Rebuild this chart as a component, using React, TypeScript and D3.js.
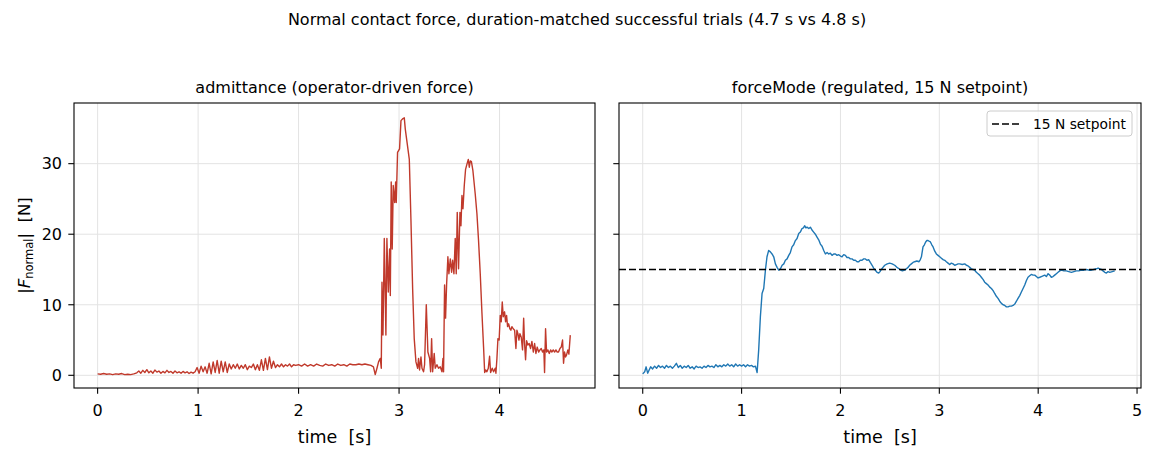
import * as d3 from "d3";

// admittance trial (operator-driven force)
const admittanceTime = [
  0.0, 0.03, 0.06, 0.09, 0.12, 0.15, 0.18, 0.21, 0.24, 0.27, 0.3, 0.33, 0.36, 0.39, 0.41, 0.43, 0.45, 0.47, 0.49,
  0.51, 0.53, 0.55, 0.57, 0.59, 0.61, 0.63, 0.65, 0.67, 0.69, 0.71, 0.73, 0.75, 0.77, 0.79, 0.81, 0.83, 0.85, 0.87,
  0.89, 0.91, 0.93, 0.95, 0.97, 0.99, 1.01, 1.03, 1.05, 1.07, 1.09, 1.11, 1.13, 1.15, 1.17, 1.19, 1.21, 1.23, 1.25,
  1.27, 1.29, 1.31, 1.33, 1.35, 1.37, 1.39, 1.41, 1.43, 1.45, 1.47, 1.49, 1.51, 1.53, 1.55, 1.57, 1.59, 1.61, 1.63,
  1.65, 1.67, 1.69, 1.71, 1.73, 1.75, 1.77, 1.79, 1.81, 1.83, 1.85, 1.87, 1.89, 1.91, 1.93, 1.95, 1.97, 2.0, 2.03,
  2.06, 2.09, 2.12, 2.15, 2.18, 2.21, 2.24, 2.27, 2.3, 2.33, 2.36, 2.39, 2.42, 2.45, 2.48, 2.51, 2.54, 2.57, 2.6,
  2.63, 2.66, 2.69, 2.72, 2.745, 2.763, 2.78, 2.796, 2.813, 2.823, 2.83, 2.84, 2.853, 2.869, 2.879, 2.893, 2.906,
  2.913, 2.922, 2.932, 2.942, 2.956, 2.966, 2.972, 2.985, 3.005, 3.019, 3.039, 3.052, 3.062, 3.102, 3.118, 3.135,
  3.151, 3.168, 3.185, 3.194, 3.204, 3.218, 3.228, 3.244, 3.254, 3.271, 3.287, 3.304, 3.314, 3.324, 3.334, 3.35,
  3.36, 3.377, 3.393, 3.41, 3.427, 3.437, 3.443, 3.453, 3.463, 3.473, 3.486, 3.496, 3.51, 3.523, 3.533, 3.546,
  3.559, 3.569, 3.579, 3.592, 3.606, 3.616, 3.626, 3.636, 3.649, 3.662, 3.675, 3.689, 3.699, 3.709, 3.72, 3.735,
  3.758, 3.775, 3.791, 3.808, 3.825, 3.841, 3.852, 3.862, 3.874, 3.888, 3.901, 3.911, 3.927, 3.941, 3.957, 3.964,
  3.974, 3.984, 3.996, 4.007, 4.017, 4.027, 4.037, 4.05, 4.06, 4.07, 4.08, 4.09, 4.103, 4.113, 4.123, 4.136, 4.15,
  4.163, 4.173, 4.183, 4.193, 4.203, 4.216, 4.229, 4.24, 4.249, 4.259, 4.269, 4.282, 4.295, 4.309, 4.322, 4.336,
  4.349, 4.362, 4.375, 4.389, 4.402, 4.415, 4.428, 4.441, 4.448, 4.458, 4.468, 4.481, 4.495, 4.508, 4.521, 4.534,
  4.548, 4.561, 4.574, 4.587, 4.601, 4.614, 4.627, 4.637, 4.647, 4.657, 4.667, 4.68, 4.69, 4.704,
];
const admittanceForce = [
  0.2, 0.15, 0.25, 0.15, 0.2, 0.1, 0.2, 0.15, 0.25, 0.1, 0.15, 0.1, 0.2, 0.35, 0.6, 0.3, 0.7, 0.4, 0.8,
  0.35, 0.6, 0.3, 0.75, 0.45, 0.6, 0.3, 0.55, 0.35, 0.7, 0.4, 0.55, 0.3, 0.6, 0.35, 0.5, 0.3, 0.55, 0.35,
  0.5, 0.25, 0.45, 0.3, 0.5, 1.1, 0.3, 1.3, 0.5, 1.2, 0.3, 1.7, 0.2, 1.9, 0.4, 2.1, 0.3, 2.0, 0.5,
  1.9, 0.4, 1.6, 0.9, 1.5, 1.0, 1.6, 0.9, 1.4, 1.0, 1.5, 0.8, 1.3, 1.1, 1.6, 0.8, 1.5, 0.7, 2.2,
  0.7, 2.4, 0.8, 2.6, 1.0, 2.0, 1.1, 1.5, 1.2, 1.6, 1.2, 1.5, 1.3, 1.6, 1.2, 1.5, 1.4, 1.5, 1.3,
  1.6, 1.3, 1.5, 1.3, 1.6, 1.4, 1.3, 1.6, 1.4, 1.5, 1.3, 1.6, 1.4, 1.5, 1.3, 1.6, 1.5, 1.5, 1.6,
  1.5, 1.6, 1.5, 1.4, 1.2, 0.1, 1.0, 1.9, 2.4, 1.0, 13.2, 5.7, 19.4, 5.7, 19.4, 11.8, 17.9,
  11.3, 27.4, 17.9, 26.9, 24.5, 27.4, 24.5, 31.6, 32.1, 36.1, 36.4, 36.5, 34.9, 30.6, 22.2, 12.3,
  5.2, 1.9, 1.0, 2.4, 0.75, 2.6, 1.0, 0.5, 1.5, 10.0, 3.3, 2.4, 0.5, 5.2, 0.5, 3.1,
  1.0, 1.5, 1.0, 1.2, 0.5, 2.4, 0.5, 12.8, 8.1, 12.8, 16.8, 14.4, 16.5, 14.6, 16.3, 14.4,
  19.4, 14.4, 23.1, 15.1, 23.1, 21.2, 25.5, 23.6, 26.9, 29.2, 29.9, 30.6, 29.5, 30.4, 30.3, 29.0,
  25.7, 22.9, 19.1, 14.4, 8.8, 4.0, 0.4, 0.75, 0.5, 1.0, 2.7, 0.4, 1.0, 0.5, 1.0, 0.3,
  2.4, 5.2, 5.0, 8.5, 7.6, 10.4, 8.3, 9.0, 7.6, 8.5, 6.9, 7.3, 6.6, 6.4, 6.9, 6.6, 6.4,
  3.8, 6.4, 5.9, 5.0, 5.9, 5.4, 3.6, 8.1, 4.5, 2.2, 4.9, 4.3, 4.5, 3.8, 4.8, 3.3,
  4.5, 3.1, 4.0, 3.3, 3.6, 3.8, 3.3, 3.6, 0.4, 6.6, 3.3, 3.6, 3.1, 3.6, 3.3, 3.6,
  3.3, 3.6, 3.3, 3.3, 3.8, 4.0, 5.0, 1.7, 3.3, 2.6, 2.9, 3.6, 3.0, 5.7,
];

// forceMode trial (regulated, 15 N setpoint)
const forceModeTime = [
  0.0, 0.02, 0.034, 0.05, 0.065, 0.08, 0.1, 0.12, 0.14, 0.16, 0.18, 0.2, 0.22, 0.24, 0.26, 0.28, 0.3, 0.32, 0.34,
  0.36, 0.38, 0.4, 0.42, 0.44, 0.46, 0.48, 0.5, 0.52, 0.54, 0.56, 0.58, 0.6, 0.62, 0.64, 0.66, 0.68, 0.7, 0.72,
  0.74, 0.76, 0.78, 0.8, 0.82, 0.84, 0.86, 0.88, 0.9, 0.92, 0.94, 0.96, 0.98, 1.0, 1.02, 1.04, 1.06, 1.08, 1.1,
  1.12, 1.14, 1.157, 1.173, 1.19, 1.207, 1.224, 1.241, 1.257, 1.274, 1.291, 1.308, 1.325, 1.342, 1.359, 1.376,
  1.393, 1.41, 1.427, 1.443, 1.46, 1.477, 1.493, 1.51, 1.527, 1.544, 1.561, 1.578, 1.594, 1.611, 1.625, 1.639,
  1.65, 1.662, 1.68, 1.696, 1.712, 1.729, 1.746, 1.763, 1.78, 1.797, 1.814, 1.831, 1.848, 1.865, 1.881, 1.898,
  1.915, 1.932, 1.949, 1.966, 1.983, 2.0, 2.016, 2.033, 2.05, 2.066, 2.083, 2.1, 2.117, 2.134, 2.151, 2.168,
  2.185, 2.2, 2.218, 2.235, 2.252, 2.268, 2.285, 2.302, 2.32, 2.336, 2.353, 2.37, 2.387, 2.4, 2.414, 2.43,
  2.448, 2.473, 2.498, 2.523, 2.549, 2.571, 2.593, 2.61, 2.626, 2.65, 2.667, 2.684, 2.7, 2.717, 2.734, 2.751,
  2.773, 2.795, 2.808, 2.819, 2.835, 2.849, 2.862, 2.874, 2.886, 2.898, 2.91, 2.924, 2.937, 2.954, 2.97, 2.987,
  3.004, 3.021, 3.038, 3.055, 3.071, 3.088, 3.105, 3.122, 3.139, 3.156, 3.173, 3.19, 3.206, 3.232, 3.257, 3.274,
  3.291, 3.308, 3.324, 3.341, 3.358, 3.375, 3.392, 3.408, 3.425, 3.442, 3.459, 3.476, 3.493, 3.51, 3.527, 3.544,
  3.56, 3.577, 3.594, 3.611, 3.628, 3.645, 3.662, 3.679, 3.695, 3.712, 3.729, 3.746, 3.763, 3.78, 3.796, 3.813,
  3.83, 3.847, 3.864, 3.88, 3.897, 3.914, 3.931, 3.948, 3.965, 3.982, 3.999, 4.016, 4.032, 4.049, 4.066, 4.083,
  4.1, 4.117, 4.133, 4.15, 4.167, 4.184, 4.201, 4.218, 4.235, 4.26, 4.285, 4.31, 4.336, 4.361, 4.386, 4.411,
  4.437, 4.462, 4.488, 4.513, 4.538, 4.563, 4.589, 4.606, 4.623, 4.64, 4.656, 4.673, 4.69, 4.707, 4.724, 4.749,
  4.774,
];
const forceModeForce = [
  0.2, 0.5, 1.2, 0.3, 0.75, 1.2, 0.9, 1.3, 1.0, 1.4, 1.1, 1.3, 1.0, 1.4, 1.1, 1.3, 1.0, 1.3, 1.7,
  1.1, 1.4, 1.0, 1.3, 1.1, 1.4, 1.0, 1.2, 0.9, 1.3, 1.1, 1.2, 1.0, 1.3, 1.1, 1.4, 1.2, 1.3, 1.1,
  1.5, 1.2, 1.4, 1.2, 1.5, 1.3, 1.6, 1.3, 1.5, 1.2, 1.6, 1.3, 1.5, 1.3, 1.5, 1.2, 1.5, 1.3, 1.4,
  1.2, 1.3, 0.4, 3.6, 8.3, 11.6, 12.3, 14.9, 16.8, 17.7, 17.5, 17.2, 16.8, 15.8, 15.3, 14.9,
  15.1, 15.6, 15.8, 16.3, 16.5, 17.0, 17.4, 18.2, 18.5, 19.1, 19.4, 20.1, 20.3, 20.8, 20.9, 21.2,
  20.9, 21.0, 20.8, 21.0, 20.6, 20.3, 20.0, 19.6, 19.2, 18.6, 18.3, 17.7, 17.2, 17.4, 17.2, 17.3,
  17.0, 17.2, 17.2, 17.0, 17.1, 16.9, 16.8, 17.1, 17.0, 16.7, 16.7, 16.5, 16.5, 16.3, 16.3, 16.1,
  16.1, 16.3, 16.3, 16.5, 16.5, 16.3, 16.4, 16.0, 15.6, 15.2, 14.9, 14.6, 14.5, 14.7, 15.0, 15.3,
  15.6, 15.8, 15.9, 15.8, 15.6, 15.3, 15.1, 14.9, 14.8, 14.9, 15.1, 15.3, 15.6, 15.8, 16.0, 16.1,
  16.2, 16.1, 16.4, 16.8, 18.2, 18.5, 18.9, 19.1, 19.1, 19.0, 18.9, 18.5, 18.2, 17.6, 17.2, 17.0,
  16.8, 16.6, 16.4, 16.3, 16.1, 15.9, 15.7, 15.9, 15.8, 15.6, 15.7, 15.8, 15.8, 15.7, 15.8, 15.6,
  15.5, 15.3, 15.1, 15.0, 14.9, 14.6, 14.4, 14.2, 13.9, 13.6, 13.2, 13.0, 12.8, 12.5, 12.3, 12.0,
  11.6, 11.2, 10.9, 10.5, 10.2, 10.0, 9.9, 9.7, 9.7, 9.8, 9.8, 9.9, 10.1, 10.5, 10.9, 11.3,
  11.8, 12.3, 12.8, 13.4, 13.9, 14.1, 14.3, 14.2, 14.2, 14.0, 13.8, 13.9, 14.0, 14.1, 14.2, 14.0,
  14.4, 14.2, 13.9, 14.0, 14.2, 14.4, 14.6, 14.8, 14.9, 14.8, 14.8, 14.7, 14.6, 14.7, 14.8, 14.8,
  14.9, 14.9, 15.0, 14.9, 14.9, 15.0, 15.1, 15.2, 15.1, 15.0, 14.8, 14.6, 14.5, 14.7, 14.6, 14.7,
  14.8,
];

const setpoint = 15;
const yTicks = [0, 10, 20, 30];
const leftXTicks = [0, 1, 2, 3, 4];
const rightXTicks = [0, 1, 2, 3, 4, 5];

const W = 1154;
const H = 457;
const top = 103;
const bottom = 388;
const font = "DejaVu Sans, sans-serif";
const gridColor = "#e3e3e3";

const y = d3.scaleLinear().domain([-1.8, 38.6]).range([bottom, top]);

type PanelProps = {
  x: d3.ScaleLinear<number, number>;
  xTicks: number[];
  times: number[];
  values: number[];
  color: string;
  title: string;
  showYLabels: boolean;
  setpointLine?: boolean;
};

function Panel({ x, xTicks, times, values, color, title, showYLabels, setpointLine }: PanelProps) {
  const [x0, x1] = x.range();
  const line = d3
    .line<number>()
    .x((_, i) => x(times[i]))
    .y((d) => y(d));
  const cx = (x0 + x1) / 2;
  return (
    <g>
      {xTicks.map((t) => (
        <line key={"gx" + t} x1={x(t)} x2={x(t)} y1={top} y2={bottom} stroke={gridColor} strokeWidth={1} />
      ))}
      {yTicks.map((t) => (
        <line key={"gy" + t} x1={x0} x2={x1} y1={y(t)} y2={y(t)} stroke={gridColor} strokeWidth={1} />
      ))}
      <path d={line(values) ?? ""} fill="none" stroke={color} strokeWidth={1.4} strokeLinejoin="round" />
      {setpointLine && (
        <line x1={x0} x2={x1} y1={y(setpoint)} y2={y(setpoint)} stroke="#000" strokeWidth={1.7} strokeDasharray="7,3" />
      )}
      <rect x={x0} y={top} width={x1 - x0} height={bottom - top} fill="none" stroke="#000" strokeWidth={1.1} />
      {xTicks.map((t) => (
        <g key={"tx" + t}>
          <line x1={x(t)} x2={x(t)} y1={bottom} y2={bottom + 5.7} stroke="#000" strokeWidth={1.1} />
          <text x={x(t)} y={416} textAnchor="middle" fontSize={16} fontFamily={font}>
            {t}
          </text>
        </g>
      ))}
      {yTicks.map((t) => (
        <g key={"ty" + t}>
          <line x1={x0} x2={x0 - 5.7} y1={y(t)} y2={y(t)} stroke="#000" strokeWidth={1.1} />
          {showYLabels && (
            <text x={x0 - 12} y={y(t)} dy="0.36em" textAnchor="end" fontSize={16} fontFamily={font}>
              {t}
            </text>
          )}
        </g>
      ))}
      <text x={cx} y={93} textAnchor="middle" fontSize={16} fontFamily={font}>
        {title}
      </text>
      <text x={cx} y={443} textAnchor="middle" fontSize={17.5} fontFamily={font} xmlSpace="preserve">
        time  [s]
      </text>
    </g>
  );
}

export default function App() {
  const xLeft = d3.scaleLinear().domain([-0.235, 4.95]).range([74, 595]);
  const xRight = d3.scaleLinear().domain([-0.24, 5.04]).range([619, 1141]);
  const midY = (top + bottom) / 2;

  return (
    <svg
      width={W}
      height={H}
      viewBox={`0 0 ${W} ${H}`}
      style={{ position: "absolute", left: 0, top: 0, background: "#fff" }}
    >
      <rect width={W} height={H} fill="#fff" />
      <text x={W / 2} y={25} textAnchor="middle" fontSize={16} fontFamily={font}>
        Normal contact force, duration-matched successful trials (4.7 s vs 4.8 s)
      </text>

      <Panel
        x={xLeft}
        xTicks={leftXTicks}
        times={admittanceTime}
        values={admittanceForce}
        color="#c0392b"
        title="admittance (operator-driven force)"
        showYLabels
      />
      <Panel
        x={xRight}
        xTicks={rightXTicks}
        times={forceModeTime}
        values={forceModeForce}
        color="#1f77b4"
        title="forceMode (regulated, 15 N setpoint)"
        showYLabels={false}
        setpointLine
      />

      <text
        transform={`translate(30,${midY}) rotate(-90)`}
        textAnchor="middle"
        fontSize={16.5}
        fontFamily={font}
        xmlSpace="preserve"
      >
        |<tspan fontStyle="italic">F</tspan>
        <tspan fontSize={11.5} dy={3}>normal</tspan>
        <tspan dy={-3}>|  [N]</tspan>
      </text>

      <g>
        <rect x={987} y={111} width={145} height={25} rx={3} fill="#fff" fillOpacity={0.8} stroke="#cccccc" strokeWidth={1} />
        <line x1={992} x2={1020} y1={124} y2={124} stroke="#000" strokeWidth={1.7} strokeDasharray="7,3" />
        <text x={1033} y={128.5} fontSize={13.8} fontFamily={font}>
          15 N setpoint
        </text>
      </g>
    </svg>
  );
}
